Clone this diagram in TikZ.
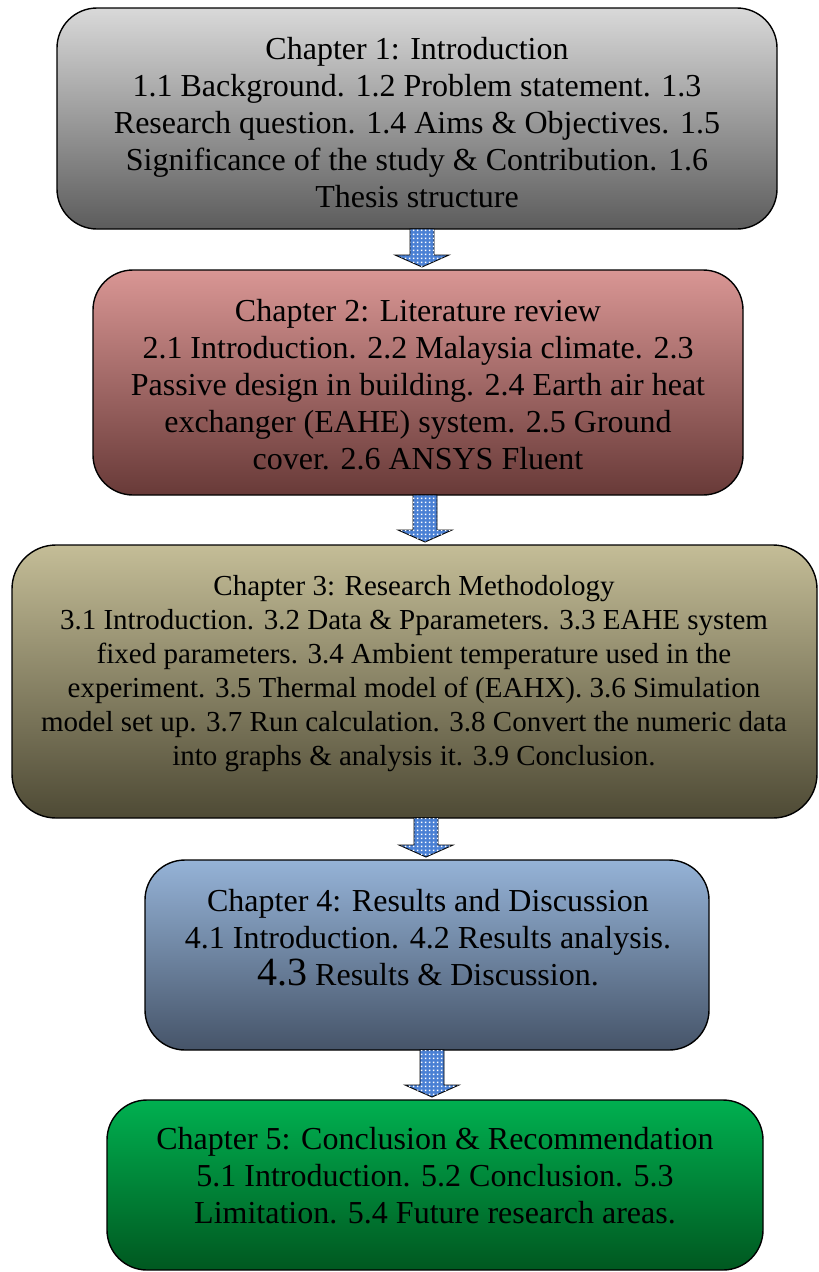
\documentclass[tikz,border=0pt]{standalone}
\usepackage{fontspec}
\setmainfont{Liberation Serif}
\usetikzlibrary{patterns.meta,calc}
\definecolor{arrowblue}{HTML}{4A80D4}
\tikzdeclarepattern{
  name=wdots, type=uncolored,
  bounding box={(0pt,0pt) and (4pt,4pt)},
  tile size={(4pt,4pt)},
  code={\pgfpathrectangle{\pgfpoint{1pt}{1pt}}{\pgfpoint{2pt}{2pt}}\pgfusepath{fill}}
}
\tikzset{
  chbox/.style={draw=black, line width=1.4pt, rounded corners=40pt, inner sep=0pt, outer sep=0pt},
  chtext/.style={align=center, inner sep=0pt, text=black, font=\fontsize{32}{37}\selectfont},
  barrow/.style={draw=black, line width=0.9pt, fill=arrowblue, postaction={pattern=wdots, pattern color=white}}
}
\newcommand\blockarrow[3]{%
  \path[barrow] let \p1=(#2.south), \p2=(#3.north) in
   ({#1pt-12pt},\y1) -- ({#1pt+12pt},\y1) -- ({#1pt+12pt},\y2+15pt) -- ({#1pt+27pt},\y2+15pt)
   -- ({#1pt},\y2+3pt) -- ({#1pt-27pt},\y2+15pt) -- ({#1pt-12pt},\y2+15pt) -- cycle;
}
\begin{document}
\begin{tikzpicture}[x=1pt,y=-1pt]
\useasboundingbox (0,0) rectangle (819,1272);
% boxes
\node[chbox, top color={rgb,255:red,217;green,217;blue,217}, bottom color={rgb,255:red,92;green,92;blue,92},
  minimum width=720pt, minimum height=221pt] (b1) at (417,118.5) {};
\node[chbox, top color={rgb,255:red,217;green,150;blue,148}, bottom color={rgb,255:red,104;green,58;blue,56},
  minimum width=650pt, minimum height=225pt] (b2) at (418,382.5) {};
\node[chbox, rounded corners=44pt, top color={rgb,255:red,196;green,189;blue,151}, bottom color={rgb,255:red,78;green,74;blue,53},
  minimum width=805pt, minimum height=273pt] (b3) at (414.5,681.5) {};
\node[chbox, top color={rgb,255:red,149;green,179;blue,215}, bottom color={rgb,255:red,70;green,84;blue,105},
  minimum width=564pt, minimum height=190pt] (b4) at (427,955) {};
\node[chbox, top color={rgb,255:red,0;green,176;blue,80}, bottom color={rgb,255:red,0;green,88;blue,32},
  minimum width=656pt, minimum height=170pt] (b5) at (435,1185) {};
% texts
\node[chtext] (t1) at (417,123) {Chapter 1: Introduction\\1.1 Background. 1.2 Problem statement. 1.3\\Research question. 1.4 Aims \& Objectives. 1.5\\Significance of the study \& Contribution. 1.6\\Thesis structure};
\node[chtext] (t2) at (418,385) {Chapter 2: Literature review\\2.1 Introduction. 2.2 Malaysia climate. 2.3\\Passive design in building. 2.4 Earth air heat\\exchanger (EAHE) system. 2.5 Ground\\cover. 2.6 ANSYS Fluent};
\node[chtext, font=\fontsize{29}{34}\selectfont] (t3) at (414,674) {Chapter 3: Research Methodology\\3.1 Introduction. 3.2 Data \& Pparameters. 3.3 EAHE system\\fixed parameters. 3.4 Ambient temperature used in the\\experiment. 3.5 Thermal model of (EAHX). 3.6 Simulation\\model set up. 3.7 Run calculation. 3.8 Convert the numeric data\\into graphs \& analysis it. 3.9 Conclusion.};
\node[chtext] (t4) at (428,938) {Chapter 4: Results and Discussion\\4.1 Introduction. 4.2 Results analysis.\\{\fontsize{40}{37}\selectfont 4.3} Results \& Discussion.};
\node[chtext] (t5) at (435,1176) {Chapter 5: Conclusion \& Recommendation\\5.1 Introduction. 5.2 Conclusion. 5.3\\Limitation. 5.4 Future research areas.};
% arrows
\blockarrow{422}{b1}{b2}
\blockarrow{425}{b2}{b3}
\blockarrow{426}{b3}{b4}
\blockarrow{432}{b4}{b5}
\end{tikzpicture}
\end{document}
